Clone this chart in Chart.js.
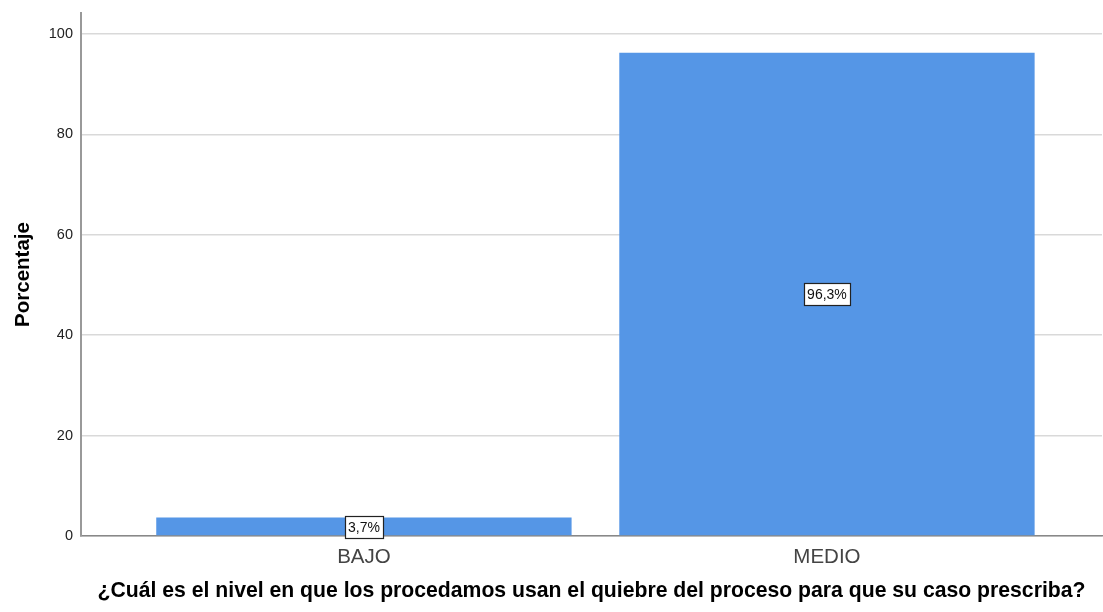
<!DOCTYPE html>
<html>
<head>
<meta charset="utf-8">
<script src="https://cdn.jsdelivr.net/npm/chart.js@4/dist/chart.umd.min.js"></script>
<style>
  html, body { margin: 0; padding: 0; background: #ffffff; }
  #wrap { width: 1103px; height: 612px; position: relative; }
</style>
</head>
<body>
<div id="wrap"><canvas id="c" width="1103" height="612"></canvas></div>
<script>
const categories = ['BAJO', 'MEDIO'];
const percentages = [3.7, 96.3];
const valueLabels = ['3,7%', '96,3%'];
const yTicks = [0, 20, 40, 60, 80, 100];
const xTitle = '¿Cuál es el nivel en que los procedamos usan el quiebre del proceso para que su caso prescriba?';
const yTitle = 'Porcentaje';

const FONT = "'Liberation Sans', Arial, sans-serif";

const boxLabels = {
  id: 'boxLabels',
  afterDatasetsDraw(chart) {
    const ctx = chart.ctx;
    const meta = chart.getDatasetMeta(0);
    const yScale = chart.scales.y;
    ctx.save();
    ctx.font = '14px ' + FONT;
    ctx.textAlign = 'center';
    ctx.textBaseline = 'middle';
    meta.data.forEach((bar, i) => {
      const x = bar.x;
      const y = yScale.getPixelForValue(percentages[i] / 2);
      const text = valueLabels[i];
      const w = Math.round(ctx.measureText(text).width + 6);
      const h = 22;
      const bx = Math.round(x - w / 2) + 0.5;
      const by = Math.round(y - h / 2) + 0.5;
      ctx.fillStyle = '#ffffff';
      ctx.fillRect(bx, by, w, h);
      ctx.strokeStyle = '#222222';
      ctx.lineWidth = 1.2;
      ctx.strokeRect(bx, by, w, h);
      ctx.fillStyle = '#111111';
      ctx.fillText(text, x, y + 1);
    });
    ctx.restore();
  }
};

new Chart(document.getElementById('c'), {
  type: 'bar',
  data: {
    datasets: [{
      data: categories.map((c, i) => ({ x: i, y: percentages[i] })),
      backgroundColor: '#5596e6',
      borderWidth: 0,
      barPercentage: 0.897,
      categoryPercentage: 1.0
    }]
  },
  plugins: [boxLabels],
  options: {
    responsive: false,
    animation: false,
    events: [],
    layout: { padding: { top: 13, right: 1, left: 0, bottom: 0 } },
    plugins: { legend: { display: false }, tooltip: { enabled: false } },
    scales: {
      x: {
        type: 'linear',
        offset: false,
        min: -0.611,
        max: 1.594,
        afterBuildTicks: (s) => { s.ticks = categories.map((c, i) => ({ value: i })); },
        afterFit: (s) => { s.height = 76; s.paddingLeft = 0; s.paddingRight = 0; },
        ticks: {
          callback: (v) => categories[v] !== undefined ? categories[v] : '',
          font: { family: FONT, size: 20.5 },
          color: '#444444',
          padding: 9,
          maxRotation: 0,
          autoSkip: false
        },
        grid: { display: false, drawTicks: false },
        border: { display: true, color: '#888888', width: 1.5 },
        title: {
          display: true,
          text: xTitle,
          font: { family: FONT, size: 21.2, weight: 'bold' },
          color: '#000000',
          padding: { top: 0, bottom: 8 }
        }
      },
      y: {
        min: 0,
        max: 104.2,
        afterBuildTicks: (s) => { s.ticks = yTicks.map(v => ({ value: v })); },
        afterFit: (s) => { s.width = 81; s.paddingTop = 0; s.paddingBottom = 0; },
        ticks: {
          font: { family: FONT, size: 14.5 },
          color: '#222222',
          padding: 8
        },
        grid: { color: '#d9d9d9', lineWidth: 1.5, drawTicks: false },
        border: { display: true, color: '#999999', width: 2 },
        title: {
          display: true,
          text: yTitle,
          font: { family: FONT, size: 20.5, weight: 'bold' },
          color: '#000000',
          padding: { top: 11, bottom: 0 }
        }
      }
    }
  }
});
</script>
</body>
</html>
